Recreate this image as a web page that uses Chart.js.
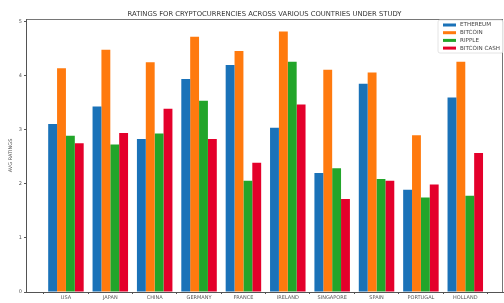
<!DOCTYPE html>
<html lang="en">
<head>
    <meta charset="UTF-8">
    <title>Crypto Ratings</title>
    <style>
        html, body { margin: 0; padding: 0; background: #fff; }
        #wrap { width: 504px; height: 303px; }
    </style>
</head>
<body>
    <div id="wrap">
        <canvas id="ratingChart" width="504" height="303"></canvas>
    </div>

    <script src="https://cdn.jsdelivr.net/npm/chart.js"></script>

    <script>
        // countries on the x axis
        const countries = ['USA', 'JAPAN', 'CHINA', 'GERMANY', 'FRANCE', 'IRELAND', 'SINGAPORE', 'SPAIN', 'PORTUGAL', 'HOLLAND'];

        // average ratings per coin
        const ethereum    = [3.11, 3.43, 2.83, 3.94, 4.20, 3.04, 2.20, 3.85, 1.89, 3.60];
        const bitcoin     = [4.14, 4.48, 4.25, 4.72, 4.46, 4.82, 4.11, 4.06, 2.90, 4.26];
        const ripple      = [2.89, 2.73, 2.93, 3.54, 2.06, 4.26, 2.29, 2.09, 1.75, 1.78];
        const bitcoinCash = [2.75, 2.94, 3.39, 2.83, 2.39, 3.47, 1.72, 2.06, 1.99, 2.57];

        const seriesNames = ['ETHEREUM', 'BITCOIN', 'RIPPLE', 'BITCOIN CASH'];
        const yTicks = [0, 1, 2, 3, 4, 5];

        const colors = ['#1a72b8', '#ff7a0e', '#22a52a', '#e4002b'];
        const font = 'DejaVu Sans';

        function toPoints(arr) {
            return arr.map((v, i) => ({ x: i, y: v }));
        }

        // title, legend and frame drawn the matplotlib way
        const extras = {
            id: 'extras',
            afterDraw(chart) {
                const ctx = chart.ctx;
                const a = chart.chartArea;
                ctx.save();

                // frame
                ctx.strokeStyle = '#555';
                ctx.lineWidth = 0.8;
                ctx.strokeRect(a.left + 0.5, a.top + 0.5, a.right - a.left - 1, a.bottom - a.top);

                // title
                ctx.fillStyle = '#333';
                ctx.font = '6.8px "' + font + '"';
                ctx.textAlign = 'center';
                ctx.textBaseline = 'middle';
                ctx.fillText('RATINGS FOR CRYPTOCURRENCIES ACROSS VARIOUS COUNTRIES UNDER STUDY', (a.left + a.right) / 2, 14);

                // legend box
                const lx = 438, ly = 20, lw = 65, lh = 33;
                ctx.fillStyle = 'rgba(255,255,255,0.8)';
                ctx.strokeStyle = '#ddd';
                ctx.lineWidth = 0.8;
                ctx.beginPath();
                ctx.roundRect(lx, ly, lw, lh, 2);
                ctx.fill();
                ctx.stroke();

                ctx.textAlign = 'left';
                ctx.font = '5.6px "' + font + '"';
                chart.data.datasets.forEach((ds, i) => {
                    const y = 25 + i * 7.7;
                    ctx.fillStyle = ds.backgroundColor;
                    ctx.fillRect(443, y - 1.5, 13, 3);
                    ctx.fillStyle = '#444';
                    ctx.fillText(ds.label, 460, y);
                });
                ctx.restore();
            }
        };

        const ctx = document.getElementById('ratingChart').getContext('2d');
        const ratingChart = new Chart(ctx, {
            type: 'bar',
            data: {
                datasets: [
                    { label: seriesNames[0], data: toPoints(ethereum), backgroundColor: colors[0] },
                    { label: seriesNames[1], data: toPoints(bitcoin), backgroundColor: colors[1] },
                    { label: seriesNames[2], data: toPoints(ripple), backgroundColor: colors[2] },
                    { label: seriesNames[3], data: toPoints(bitcoinCash), backgroundColor: colors[3] }
                ]
            },
            options: {
                responsive: false,
                animation: false,
                layout: { padding: { top: 19, right: 1, left: 8, bottom: 0 } },
                datasets: {
                    bar: { categoryPercentage: 0.8, barPercentage: 1.0, borderWidth: 0 }
                },
                plugins: {
                    legend: { display: false },
                    title: { display: false },
                    tooltip: { enabled: false }
                },
                scales: {
                    x: {
                        type: 'linear',
                        min: -0.9,
                        max: 9.85,
                        offset: false,
                        afterBuildTicks: axis => { axis.ticks = countries.map((c, i) => ({ value: i })); },
                        afterFit: scale => { scale.height = 11; },
                        grid: { display: true, drawOnChartArea: false, tickLength: 2, color: '#555' },
                        border: { color: '#555' },
                        ticks: {
                            autoSkip: false,
                            maxRotation: 0,
                            padding: 1,
                            color: '#555',
                            font: { family: font, size: 5 },
                            callback: value => countries[value]
                        }
                    },
                    y: {
                        min: 0,
                        max: 5.05,
                        afterBuildTicks: axis => { axis.ticks = yTicks.map(v => ({ value: v })); },
                        afterFit: scale => { scale.width = 18; },
                        grid: { display: true, drawOnChartArea: false, tickLength: 2, color: '#555' },
                        border: { color: '#555' },
                        ticks: {
                            padding: 2,
                            color: '#555',
                            font: { family: font, size: 5 }
                        },
                        title: {
                            display: true,
                            text: 'AVG RATINGS',
                            color: '#555',
                            font: { family: font, size: 5 },
                            padding: { top: 0, bottom: 0 }
                        }
                    }
                }
            },
            plugins: [extras]
        });
    </script>
</body>
</html>
